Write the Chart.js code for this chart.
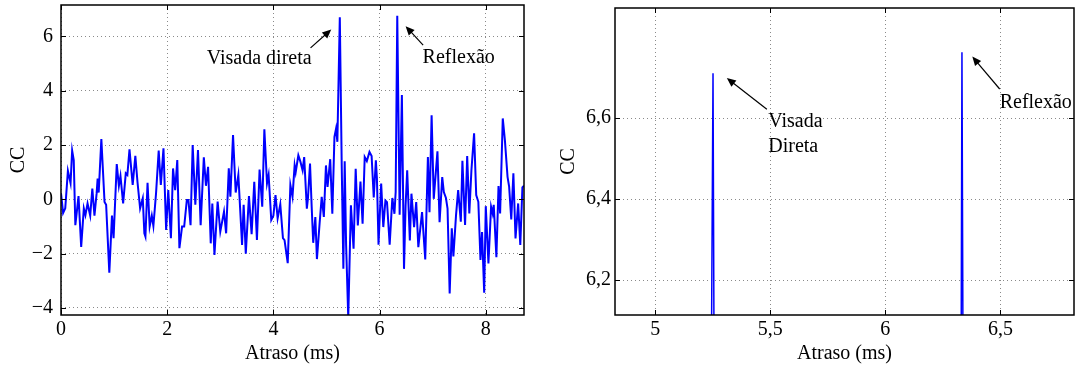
<!DOCTYPE html>
<html lang="pt">
<head>
  <meta charset="UTF-8">
  <title>Correlação cruzada - atraso</title>
  <script src="https://cdn.jsdelivr.net/npm/chart.js"></script>
  <style>
    body {
      margin: 0;
      padding: 0;
      background: #fff;
      width: 1081px;
      height: 369px;
      overflow: hidden;
      position: relative;
    }
    canvas {
      position: absolute;
      top: 0;
    }
    #fullChart { left: 0; }
    #zoomChart { left: 540px; }
  </style>
</head>
<body>
  <canvas id="fullChart" width="540" height="369"></canvas>
  <canvas id="zoomChart" width="541" height="369"></canvas>

  <script>
    // Atraso (ms) e valor de correlação cruzada
    const delayMs = [
      0.00, 0.04, 0.08, 0.13, 0.18, 0.21, 0.24, 0.27, 0.33, 0.38, 0.43, 0.46, 0.50, 0.55, 0.59, 0.63,
      0.67, 0.69, 0.71, 0.76, 0.78, 0.82, 0.85, 0.91, 0.96, 0.99, 1.05, 1.09, 1.12, 1.17, 1.22, 1.25,
      1.29, 1.35, 1.40, 1.44, 1.49, 1.54, 1.57, 1.59, 1.63, 1.67, 1.71, 1.74, 1.79, 1.84, 1.88, 1.93,
      1.98, 2.02, 2.07, 2.11, 2.15, 2.19, 2.23, 2.28, 2.32, 2.37, 2.40, 2.44, 2.48, 2.53, 2.58, 2.63,
      2.69, 2.73, 2.77, 2.82, 2.85, 2.89, 2.95, 3.00, 3.07, 3.11, 3.16, 3.19, 3.24, 3.29, 3.34, 3.41,
      3.44, 3.48, 3.54, 3.59, 3.64, 3.69, 3.74, 3.79, 3.83, 3.88, 3.91, 3.96, 4.00, 4.04, 4.08, 4.13,
      4.18, 4.21, 4.27, 4.32, 4.36, 4.40, 4.42, 4.47, 4.51, 4.55, 4.58, 4.63, 4.65, 4.69, 4.72, 4.75,
      4.79, 4.82, 4.87, 4.91, 4.95, 4.99, 5.02, 5.07, 5.11, 5.15, 5.18, 5.205, 5.251, 5.287, 5.318, 5.343,
      5.37, 5.41, 5.46, 5.51, 5.55, 5.59, 5.64, 5.68, 5.72, 5.76, 5.81, 5.85, 5.89, 5.93, 5.95, 5.98,
      6.03, 6.07, 6.11, 6.14, 6.19, 6.24, 6.28, 6.303, 6.333, 6.378, 6.42, 6.46, 6.49, 6.52, 6.57, 6.60,
      6.65, 6.69, 6.73, 6.75, 6.80, 6.86, 6.91, 6.94, 6.98, 7.02, 7.09, 7.13, 7.18, 7.21, 7.25, 7.28,
      7.32, 7.36, 7.39, 7.44, 7.48, 7.53, 7.56, 7.61, 7.65, 7.69, 7.73, 7.78, 7.82, 7.86, 7.90, 7.93,
      7.97, 8.00, 8.05, 8.10, 8.13, 8.15, 8.20, 8.24, 8.27, 8.32, 8.36, 8.41, 8.44, 8.48, 8.52, 8.56,
      8.61, 8.65, 8.69, 8.72
    ];
    const ccValues = [
      0.22, -0.50, -0.33, 1.05, 0.60, 1.80, 1.45, -0.95, 0.12, -1.75, -0.33, -0.58, -0.15, -0.60, 0.40, -0.60,
      0.20, 0.77, 0.25, 2.22, 1.45, -0.10, -0.20, -2.70, -0.60, -1.43, 1.30, 0.50, 0.86, -0.15, 0.96, 0.90,
      1.84, 0.53, 1.60, 0.65, -0.33, 0.04, -1.25, -1.37, 0.61, -1.00, -0.60, -0.98, 0.22, 1.80, 0.53, 1.88,
      -1.13, 0.34, -1.43, 1.14, 0.34, 1.45, -1.80, -1.00, -1.00, -0.02, -0.02, -0.95, 2.00, -0.20, 1.82, -0.95,
      1.55, 0.50, 1.20, -1.62, -0.15, -2.05, -0.08, -1.19, -0.45, -1.25, 1.14, 0.10, 2.37, 0.25, 0.90, -1.68,
      -0.20, -2.00, 0.12, -1.28, 0.65, -1.50, 1.10, -0.27, 2.58, 0.59, 0.90, -0.76, -0.60, 0.16, -0.70, -0.18,
      -1.43, -1.50, -2.35, 0.53, 0.10, 1.25, 1.00, 1.62, 1.38, 1.07, 1.56, -0.34, 0.02, 1.32, -0.22, -1.60,
      -0.65, -2.20, -0.90, 0.09, -0.65, 1.25, 0.46, 1.48, -0.53, 2.30, 2.60, 2.12, 6.711, 1.25, -2.56, 1.40,
      -1.70, -4.35, -0.22, -1.82, 1.13, -0.96, 0.66, -0.90, 1.56, 1.41, 1.75, 1.60, 0.07, 1.44, 0.77, -1.67,
      0.58, -1.02, -0.04, -0.10, -1.67, 0.05, -0.53, 0.27, 6.763, -0.57, 3.84, -2.56, -0.22, 1.07, -1.51, 0.21,
      -1.02, -0.10, -1.76, -1.38, -0.47, -2.21, 1.56, -0.47, 3.10, 0.02, 1.77, -0.84, 0.82, 0.27, 0.05, -0.34,
      -3.47, -1.07, -2.10, -0.58, 0.34, -0.82, 1.42, -0.94, 1.60, -0.52, 1.08, 2.43, 0.16, -0.09, -2.23, -1.20,
      -3.44, -0.25, -2.36, -0.27, -0.52, -0.20, -2.13, 0.49, -0.52, 2.98, 2.18, 0.83, 0.47, -0.74, 0.96, -1.44,
      -0.15, -1.68, 0.44, 0.50
    ];

    // marcas dos eixos
    const fullXTicks = [0, 2, 4, 6, 8];
    const fullYTicks = [-4, -2, 0, 2, 4, 6];
    const zoomXTicks = [5, 5.5, 6, 6.5];
    const zoomYTicks = [6.2, 6.4, 6.6];

    const serif = '"Liberation Serif", "DejaVu Serif", serif';
    Chart.defaults.color = '#000';
    Chart.defaults.font.family = serif;
    Chart.defaults.font.size = 20;

    const points = delayMs.map((t, i) => ({ x: t, y: ccValues[i] }));

    function withComma(v) {
      return String(v).replace('.', ',');
    }
    function withMinus(v) {
      return String(v).replace('-', '\u2212');
    }

    function drawArrow(ctx, x1, y1, x2, y2) {
      const ang = Math.atan2(y2 - y1, x2 - x1);
      const len = 9, half = 4;
      ctx.beginPath();
      ctx.moveTo(x1, y1);
      ctx.lineTo(x2 - Math.cos(ang) * len * 0.8, y2 - Math.sin(ang) * len * 0.8);
      ctx.stroke();
      ctx.beginPath();
      ctx.moveTo(x2, y2);
      ctx.lineTo(x2 - Math.cos(ang) * len - Math.sin(ang) * half, y2 - Math.sin(ang) * len + Math.cos(ang) * half);
      ctx.lineTo(x2 - Math.cos(ang) * len + Math.sin(ang) * half, y2 - Math.sin(ang) * len - Math.cos(ang) * half);
      ctx.closePath();
      ctx.fill();
    }

    // caixa estilo MATLAB, marcas para dentro e anotações
    const matlabBox = {
      id: 'matlabBox',
      afterDatasetsDraw(chart, args, opts) {
        const { ctx, chartArea: a, scales: { x, y } } = chart;
        ctx.save();
        ctx.strokeStyle = '#000';
        ctx.fillStyle = '#000';
        ctx.lineWidth = 1;
        x.ticks.forEach(t => {
          const px = Math.round(x.getPixelForValue(t.value)) + 0.5;
          ctx.beginPath();
          ctx.moveTo(px, a.bottom); ctx.lineTo(px, a.bottom - 5);
          ctx.moveTo(px, a.top); ctx.lineTo(px, a.top + 5);
          ctx.stroke();
        });
        y.ticks.forEach(t => {
          const py = Math.round(y.getPixelForValue(t.value)) + 0.5;
          ctx.beginPath();
          ctx.moveTo(a.left, py); ctx.lineTo(a.left + 5, py);
          ctx.moveTo(a.right, py); ctx.lineTo(a.right - 5, py);
          ctx.stroke();
        });
        ctx.lineWidth = 1.5;
        ctx.strokeRect(a.left, a.top, a.right - a.left, a.bottom - a.top);

        ctx.lineWidth = 1.2;
        ctx.font = '20px ' + serif;
        ctx.textBaseline = 'middle';
        (opts.notes || []).forEach(n => {
          ctx.textAlign = n.align;
          const tx = x.getPixelForValue(n.at[0]);
          const ty = y.getPixelForValue(n.at[1]);
          n.lines.forEach((line, i) => ctx.fillText(line, tx, ty + i * 25));
          drawArrow(ctx,
            x.getPixelForValue(n.from[0]), y.getPixelForValue(n.from[1]),
            x.getPixelForValue(n.to[0]), y.getPixelForValue(n.to[1]));
        });
        ctx.restore();
      }
    };

    function makeChart(id, cfg) {
      const gridStyle = { color: '#8a8a8a', lineWidth: 1, drawTicks: false };
      const borderStyle = { display: false, dash: [1, 3] };
      return new Chart(document.getElementById(id).getContext('2d'), {
        type: 'scatter',
        data: {
          datasets: [{
            data: points,
            showLine: true,
            borderColor: '#0000ff',
            borderWidth: cfg.lineWidth,
            pointRadius: 0,
            pointHoverRadius: 0,
            tension: 0
          }]
        },
        options: {
          responsive: false,
          animation: false,
          events: [],
          layout: { padding: cfg.padding },
          plugins: {
            legend: { display: false },
            tooltip: { enabled: false },
            matlabBox: { notes: cfg.notes }
          },
          scales: {
            x: {
              type: 'linear',
              min: cfg.xMin,
              max: cfg.xMax,
              grid: gridStyle,
              border: borderStyle,
              afterBuildTicks: s => { s.ticks = cfg.xTicks.map(v => ({ value: v })); },
              afterFit: s => {
                s.height = 54;
                s.paddingLeft = 0; s.paddingRight = 0;
              },
              ticks: { padding: 3, callback: cfg.xFormat },
              title: { display: true, text: 'Atraso (ms)', padding: { top: 0, bottom: 3 } }
            },
            y: {
              min: cfg.yMin,
              max: cfg.yMax,
              grid: gridStyle,
              border: borderStyle,
              afterBuildTicks: s => { s.ticks = cfg.yTicks.map(v => ({ value: v })); },
              afterFit: s => {
                s.width = cfg.yWidth;
                s.paddingTop = 0; s.paddingBottom = 0;
              },
              ticks: { padding: cfg.yPad, callback: cfg.yFormat },
              title: { display: true, text: 'CC', padding: { top: cfg.titlePad, bottom: 0 } }
            }
          }
        },
        plugins: [matlabBox]
      });
    }

    document.addEventListener('DOMContentLoaded', function() {
      makeChart('fullChart', {
        lineWidth: 2,
        padding: { top: 5, right: 16, left: 0, bottom: 0 },
        xMin: 0, xMax: 8.72, yMin: -4.26, yMax: 7.16,
        xTicks: fullXTicks, yTicks: fullYTicks,
        xFormat: v => withMinus(v), yFormat: v => withMinus(v),
        yWidth: 61, yPad: 8, titlePad: 7,
        notes: [
          { lines: ['Visada direta'], align: 'right', at: [4.72, 5.17], from: [4.70, 5.58], to: [5.09, 6.26] },
          { lines: ['Reflexão'], align: 'left', at: [6.81, 5.2], from: [6.82, 5.68], to: [6.49, 6.38] }
        ]
      });
      makeChart('zoomChart', {
        lineWidth: 1.5,
        padding: { top: 8, right: 7, left: 0, bottom: 0 },
        xMin: 4.825, xMax: 6.82, yMin: 6.114, yMax: 6.872,
        xTicks: zoomXTicks, yTicks: zoomYTicks,
        xFormat: v => withComma(v), yFormat: v => withComma(v),
        yWidth: 75, yPad: 4, titlePad: 17,
        notes: [
          { lines: ['Visada', 'Direta'], align: 'left', at: [5.491, 6.591], from: [5.485, 6.622], to: [5.311, 6.699] },
          { lines: ['Reflexão'], align: 'left', at: [6.497, 6.638], from: [6.497, 6.672], to: [6.378, 6.752] }
        ]
      });
    });
  </script>
</body>
</html>
